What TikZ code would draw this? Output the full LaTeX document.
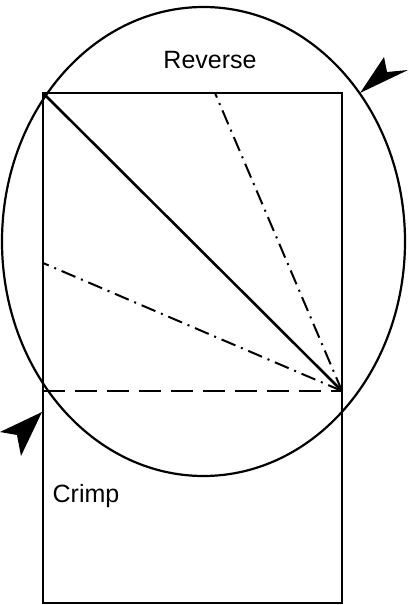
\documentclass[tikz,border=0pt]{standalone}
\usepackage{fontspec}
\setmainfont{Liberation Sans}
\begin{document}
\begin{tikzpicture}[x=0.5pt,y=-0.5pt,
  thin line/.style={line width=1.1pt},
  dashline/.style={line width=1.1pt,dash pattern=on 11pt off 5pt},
  dashdotline/.style={line width=1pt,dash pattern=on 7.5pt off 3pt on 1pt off 3pt},
  dart/.style={fill=black,draw=none},
  lbl/.style={font=\fontsize{12.5}{14}\selectfont,inner sep=0pt}]
\useasboundingbox (0,0) rectangle (408,605);
% rectangle corners
\coordinate (TL) at (43,93);
\coordinate (TR) at (342,93);
\coordinate (BR) at (342,603);
\coordinate (BL) at (43,603);
\coordinate (ML) at (43,391);
\coordinate (MR) at (342,391);
\coordinate (TopDD) at (215,93);
\coordinate (LeftDD) at (43,263);
\draw[thin line] (TL) -- (TR) -- (BR) -- (BL) -- cycle;
% ellipse
\coordinate (C) at (203.5,241.5);
\draw[thin line] (C) ellipse [x radius=201.5, y radius=234.5];
% lines
\draw[line width=1.3pt] (TL) -- (MR);
\draw[dashline] (ML) -- (MR);
\draw[dashdotline] (MR) -- (TopDD);
\draw[dashdotline] (MR) -- (LeftDD);
% arrowheads
\fill[dart] (360,93) -- (384,57) -- (387,72) -- (408,70) -- cycle;
\fill[dart] (42,412) -- (0,432) -- (17,435) -- (21,456) -- cycle;
% labels
\node[lbl] (rev) at (210,60) {Reverse};
\node[lbl] (crimp) at (86,496) {Crimp};
\end{tikzpicture}
\end{document}
